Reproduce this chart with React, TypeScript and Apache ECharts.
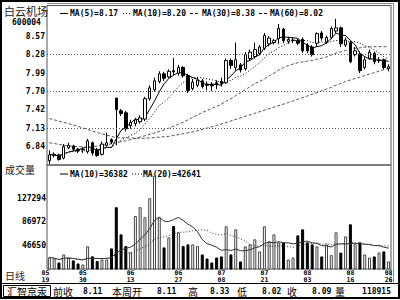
import React, { useEffect, useRef } from 'react';
import * as echarts from 'echarts';

const dates = [
  '05/19','05/20','05/23','05/24','05/25','05/26','05/27','05/30','05/31',
  '06/01','06/02','06/03','06/06','06/07','06/08','06/09','06/10','06/13','06/14','06/15','06/16','06/17','06/20','06/21','06/22','06/23','06/24','06/27','06/28','06/29','06/30',
  '07/01','07/04','07/05','07/06','07/07','07/08','07/11','07/12','07/13','07/14','07/15','07/18','07/19','07/20','07/21','07/22','07/25','07/26','07/27','07/28','07/29',
  '08/01','08/02','08/03','08/04','08/05','08/08','08/09','08/10','08/11','08/12','08/15','08/16','08/17','08/18','08/19','08/22','08/23','08/24','08/25','08/26'
];
const opens = [
  6.62,6.70,6.71,6.66,6.82,6.85,6.80,6.79,6.76,6.90,
  6.78,6.72,6.86,6.95,7.60,7.40,7.37,7.17,7.20,7.23,
  7.27,7.59,7.73,7.86,7.98,7.93,8.03,7.99,8.08,7.95,
  7.75,7.80,7.87,7.82,7.81,7.84,7.86,7.84,8.19,8.08,
  8.12,8.06,8.22,8.25,8.30,8.38,8.45,8.47,8.53,8.68,
  8.49,8.50,8.50,8.52,8.43,8.40,8.46,8.62,8.48,8.55,
  8.65,8.70,8.43,8.47,8.28,8.29,8.08,8.22,8.30,8.19,
  8.20,8.06
];
const closes = [
  6.71,6.72,6.64,6.84,6.86,6.80,6.78,6.80,6.93,6.74,
  6.70,6.88,6.90,6.91,7.42,7.36,7.12,7.22,7.26,7.29,
  7.59,7.76,7.87,7.98,7.91,8.02,8.01,8.08,7.95,7.72,
  7.85,7.88,7.78,7.80,7.79,7.81,7.83,8.19,8.11,8.20,
  8.04,8.28,8.32,8.36,8.40,8.58,8.54,8.50,8.69,8.50,
  8.52,8.51,8.46,8.34,8.34,8.28,8.61,8.54,8.55,8.69,
  8.70,8.45,8.51,8.17,8.34,8.03,8.20,8.32,8.17,8.20,
  8.08,8.09
];
const lows = [
  6.57,6.67,6.62,6.64,6.80,6.77,6.74,6.74,6.73,6.70,
  6.68,6.70,6.84,6.88,6.86,7.32,7.08,7.12,7.16,7.20,
  7.24,7.56,7.70,7.83,7.87,7.91,7.96,7.95,7.92,7.68,
  7.72,7.77,7.75,7.72,7.71,7.74,7.78,7.82,8.06,8.03,
  8.00,8.03,8.18,8.22,8.27,8.35,8.41,8.44,8.45,8.46,
  8.45,8.46,8.43,8.31,8.30,8.25,8.40,8.50,8.45,8.52,
  8.62,8.40,8.40,8.15,8.25,7.99,8.05,8.20,8.13,8.15,
  8.05,8.02
];
const highs = [
  6.78,6.75,6.73,6.88,6.90,6.87,6.82,6.83,6.96,6.92,
  6.82,6.92,7.06,6.97,7.60,7.43,7.40,7.26,7.29,7.33,
  7.62,7.80,7.92,8.02,8.01,8.05,8.23,8.12,8.10,7.98,
  7.90,7.93,7.90,7.86,7.85,7.88,7.92,8.22,8.22,8.47,
  8.15,8.32,8.36,8.47,8.43,8.62,8.57,8.53,8.76,8.70,
  8.56,8.55,8.53,8.55,8.46,8.43,8.63,8.65,8.58,8.72,
  8.84,8.72,8.55,8.50,8.40,8.33,8.25,8.36,8.33,8.24,
  8.22,8.13
];
const volumes = [
  26000,24000,17500,31200,26000,21000,15800,14000,45000,28000,
  20000,22600,22600,41500,111900,65500,45500,34600,96900,111900,
  94700,127300,165600,94700,43200,60400,79800,69000,45500,48400,
  48400,45500,31200,24300,17500,26000,27800,79300,31200,74100,
  19200,45000,48400,57000,36400,79300,53500,65500,51800,51800,
  22600,26000,63800,74100,51800,48400,45000,27800,48400,30000,
  69000,34400,62000,82700,48400,51800,31200,26000,27800,34600,
  36400,19200
];
const ma30Head = [[0,6.90],[4,6.85],[8,6.83],[12,6.87],[16,6.93],[20,7.01],[24,7.10],[28,7.22]];
const ma60Head = [[0,7.28],[5,7.18],[10,7.06],[14,6.98],[20,6.97],[25,7.00],[30,7.07],[35,7.17],[40,7.29],[45,7.41],[50,7.53],[55,7.66],[58,7.74]];

const priceTicks = [6.84, 7.13, 7.42, 7.70, 7.99, 8.28, 8.57];
const priceGridLevels = [7.13, 7.70, 8.28];
const volTicks = [46650, 86972, 127294];
const dateLabels = ['05/19','05/30','06/13','06/27','07/08','07/21','08/03','08/16','08/26'];
const priceLegend = ['MA(5)=8.17', 'MA(10)=8.20', 'MA(30)=8.38', 'MA(60)=8.02'];
const volLegend = ['MA(10)=36382', 'MA(20)=42641'];
const quoteLabels = ['前收', '本周开', '高', '低', '收', '量'];
const quoteValues = ['8.11', '8.11', '8.33', '8.02', '8.09', '118915'];

const MONO = '"DejaVu Sans Mono", monospace';
const CJK = '"Noto Sans CJK SC", sans-serif';

function movingAvg(vals: number[], n: number, from: number) {
  const out: any[] = [];
  for (let i = from; i < vals.length; i++) {
    const s = Math.max(0, i - n + 1);
    let sum = 0;
    for (let k = s; k <= i; k++) sum += vals[k];
    out.push([i, +(sum / (i - s + 1)).toFixed(4)]);
  }
  return out;
}

export default function App() {
  const ref = useRef<HTMLDivElement>(null);
  useEffect(() => {
    const chart = echarts.init(ref.current!, null, { renderer: 'svg' });
    const up = (i: number) => closes[i] >= opens[i];
    const monoText = (text: string, x: number, y: number, align = 'left', size = 8) => ({
      type: 'text', x, y,
      style: { text, font: `bold ${size}px ${MONO}`, fill: '#000', textAlign: align, textVerticalAlign: 'middle' },
    });
    const cjkText = (text: string, x: number, y: number, size = 10, fill = '#222') => ({
      type: 'text', x, y,
      style: { text, font: `${size}px ${CJK}`, fill, textAlign: 'left', textVerticalAlign: 'middle' },
    });
    const seg = (x1: number, y1: number, x2: number, y2: number, stroke = '#000', dash: any = null, w = 1) => ({
      type: 'line', shape: { x1, y1, x2, y2 },
      style: { stroke, lineWidth: w, lineDash: dash },
    });
    const quoteLabelX = [53, 112, 188, 237, 287, 335];
    const quoteValueX = [83, 157, 210, 262, 312, 391];
    const BY = 291;

    const graphic: any[] = [
      { type: 'rect', shape: { x: 1, y: 1, width: 398, height: 297 }, style: { fill: 'none', stroke: '#000', lineWidth: 2 } },
      seg(47, 3.5, 393.5, 3.5, '#888'),
      seg(393.5, 3.5, 393.5, 282.5, '#888'),
      seg(391, 269, 391, 282.5, '#888'),
      seg(0, 283.5, 400, 283.5, '#000'),
      { type: 'rect', shape: { x: 3.5, y: 285.5, width: 47, height: 11 }, style: { fill: 'none', stroke: '#000', lineWidth: 1 } },
      cjkText('汇智京汞', 7, BY, 10, '#000'),
      cjkText('白云机场', 4, 10.5, 11),
      monoText('600004', 12, 22),
      cjkText('成交量', 5, 169, 10),
      cjkText('日线', 5, 275, 10),
      // price legend
      seg(60, 13.5, 68, 13.5, '#000'),
      monoText(priceLegend[0], 70, 13.5),
      seg(123, 13.5, 132, 13.5, '#000', [1, 2]),
      monoText(priceLegend[1], 133, 13.5),
      seg(190, 13.5, 200, 13.5, '#000', [3, 2]),
      monoText(priceLegend[2], 202, 13.5),
      seg(259, 13.5, 268, 13.5, '#000', [3, 2]),
      monoText(priceLegend[3], 270, 13.5),
      // volume legend
      seg(60, 174, 68, 174, '#000'),
      monoText(volLegend[0], 70, 174),
      seg(132, 174, 142, 174, '#000', [1, 2]),
      monoText(volLegend[1], 143, 174),
    ];
    quoteLabels.forEach((t, k) => graphic.push(cjkText(t, quoteLabelX[k], BY, 10, '#000')));
    quoteValues.forEach((t, k) => graphic.push(monoText(t, quoteValueX[k], BY, k === 5 ? 'right' : 'left')));

    const ma30 = ma30Head.concat(movingAvg(closes, 30, 29));
    const ma60 = ma60Head.concat(movingAvg(closes, 60, 59));

    const lineS = (data: any[], type: any, color: string, x = 0) => ({
      type: 'line', data, xAxisIndex: x, yAxisIndex: x, showSymbol: false, symbol: 'none',
      lineStyle: { color, width: 1, type }, silent: true, z: 3,
    });

    chart.setOption({
      animation: false,
      grid: [
        { left: 47, top: 5.5, width: 344, height: 159.5, show: true, borderColor: '#555', borderWidth: 1 },
        { left: 47, top: 165, width: 344, height: 104, show: true, borderColor: '#555', borderWidth: 1 },
      ],
      xAxis: [
        { type: 'category', gridIndex: 0, data: dates, axisLine: { show: false }, axisTick: { show: false }, axisLabel: { show: false }, splitLine: { show: false } },
        {
          type: 'category', gridIndex: 1, data: dates, axisLine: { show: false }, axisTick: { show: false }, splitLine: { show: false },
          axisLabel: {
            interval: (_i: number, v: string) => dateLabels.includes(v),
            formatter: (v: string) => v.replace('/', '\n'),
            fontFamily: MONO, fontSize: 6.5, fontWeight: 'bold', color: '#000', lineHeight: 6.5, margin: 1,
            alignMinLabel: 'right',
          },
        },
      ],
      yAxis: [
        {
          type: 'value', gridIndex: 0, min: 6.552, max: 9.05, interval: 0.288,
          axisLine: { show: false }, axisTick: { show: false }, splitLine: { show: false },
          axisLabel: {
            margin: 2, fontFamily: MONO, fontSize: 8, fontWeight: 'bold', color: '#000',
            formatter: (v: number) => { const t = priceTicks.find((p) => Math.abs(p - v) < 0.01); return t ? t.toFixed(2) : ''; },
          },
        },
        {
          type: 'value', gridIndex: 1, min: 6328, max: 184000, interval: 40322,
          axisLine: { show: false }, axisTick: { show: false }, splitLine: { show: false },
          axisLabel: {
            margin: 1, fontFamily: MONO, fontSize: 8, fontWeight: 'bold', color: '#000',
            formatter: (v: number) => { const t = volTicks.find((p) => Math.abs(p - v) < 5); return t ? String(t) : ''; },
          },
        },
      ],
      series: [
        {
          type: 'candlestick', xAxisIndex: 0, yAxisIndex: 0, barWidth: 3, z: 4,
          data: dates.map((_, i) => [opens[i], closes[i], lows[i], highs[i]]),
          itemStyle: { color: '#fff', color0: '#000', borderColor: '#000', borderColor0: '#000', borderWidth: 1 },
          markLine: {
            silent: true, symbol: ['none', 'none'], label: { show: false },
            lineStyle: { color: '#555', type: [1, 2], width: 1 },
            data: priceGridLevels.map((v) => ({ yAxis: v })),
          },
        },
        lineS(movingAvg(closes, 5, 0), 'solid', '#000'),
        lineS(movingAvg(closes, 10, 0), [1, 2], '#000'),
        lineS(ma30, [3, 2], '#555'),
        lineS(ma60, [3, 2], '#555'),
        {
          type: 'bar', xAxisIndex: 1, yAxisIndex: 1, barWidth: 3,
          data: volumes.map((v, i) => ({
            value: v,
            itemStyle: up(i) ? { color: '#fff', borderColor: '#444', borderWidth: 1 } : { color: '#000', borderColor: '#000', borderWidth: 1 },
          })),
        },
        lineS(movingAvg(volumes, 10, 0), 'solid', '#333', 1),
        lineS(movingAvg(volumes, 20, 0), [1, 2], '#333', 1),
      ],
      graphic,
    });
    return () => chart.dispose();
  }, []);
  return <div ref={ref} style={{ width: 400, height: 300, position: 'absolute', left: 0, top: 0, background: '#fff' }} />;
}
